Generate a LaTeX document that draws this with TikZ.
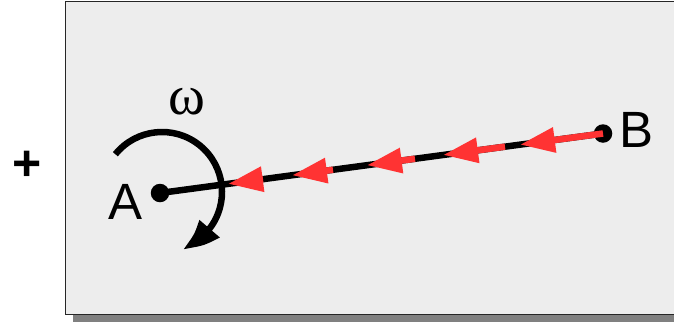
\documentclass[tikz,border=0pt]{standalone}
\usepackage{fontspec}
\setmainfont{Liberation Sans}
\newfontfamily\serifgreek{Liberation Serif}
\usetikzlibrary{arrows.meta,calc,bending}
\definecolor{boxfill}{HTML}{EDEDED}
\definecolor{shadowgray}{HTML}{808080}
\definecolor{arrowred}{HTML}{FF3333}
\begin{document}
\begin{tikzpicture}[x=1pt,y=-1pt,
  lbl/.style={inner sep=0pt, font=\fontsize{51}{60}\selectfont},
  dotnode/.style={circle, fill=black, inner sep=0pt, minimum size=18.5pt},
  rod/.style={line width=6.5pt},
  vel/.style={draw=arrowred, line width=6.5pt, -{Triangle[length=35pt,width=24pt]}},
  spin/.style={line width=6.5pt, -{Triangle[length=34pt,width=25pt,bend]}}
]
\useasboundingbox (0,0) rectangle (674,322);
\clip (0,0) rectangle (674,322);
\fill[shadowgray] (73,315) rectangle (690,322);
\draw[fill=boxfill, draw=black!85, line width=1.5pt] (65.5,1.5) rectangle (690,314.5);

\node[lbl, font=\fontsize{50}{60}\selectfont\bfseries] (plus) at (27.5,165.5) {+};
\node[dotnode] (A) at (160,193) {};
\node[dotnode] (B) at (603,133.5) {};
\node[lbl] (Alabel) at (125.5,202) {A};
\node[lbl] (Blabel) at (636.5,130) {B};
\node[lbl, font=\serifgreek\fontsize{56}{60}\selectfont] (omega) at (186.5,101.5) {ω};

\draw[rod] (A.center) -- (B.center);
\coordinate (c) at (162,192);
\draw[spin] ($(c)+(-141:60)$) arc[start angle=-141, end angle=70, radius=60];

\foreach \s/\e in {0.2325/0.1535, 0.3905/0.298, 0.5756/0.467, 0.7788/0.639, 1/0.8126}
  \draw[vel] ($(A.center)!\s!(B.center)$) -- ($(A.center)!\e!(B.center)$);
\end{tikzpicture}
\end{document}
